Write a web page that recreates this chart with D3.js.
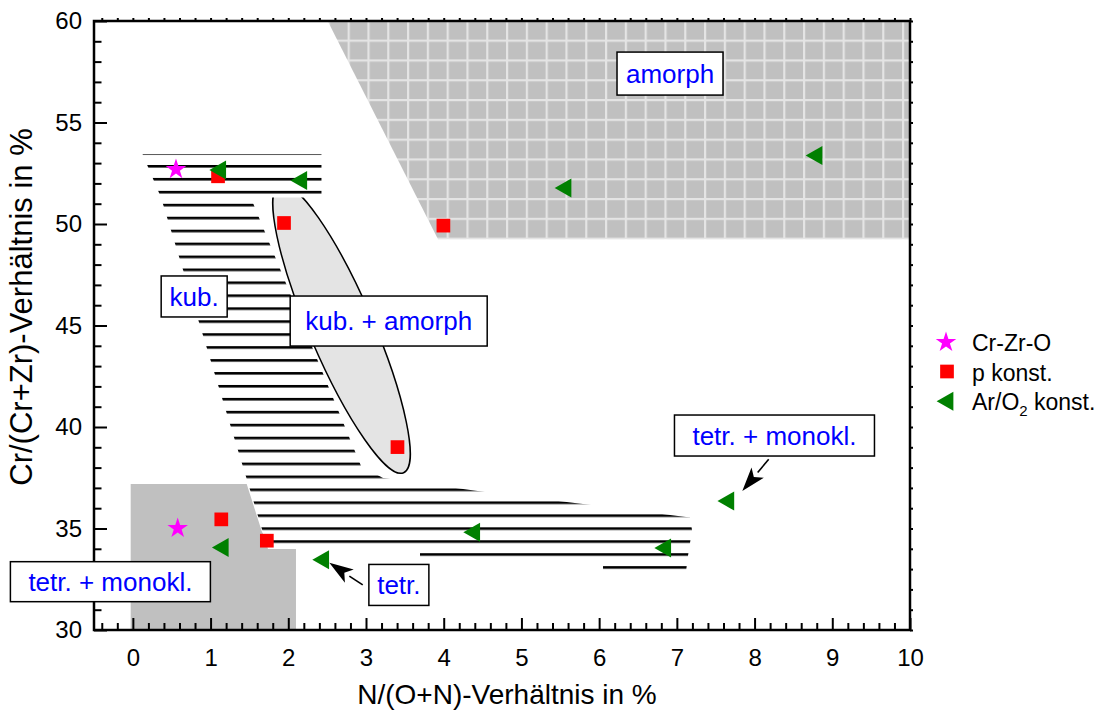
<!DOCTYPE html>
<html>
<head>
<meta charset="utf-8">
<script src="https://cdn.jsdelivr.net/npm/d3@7"></script>
<style>
  body { margin: 0; background: #fff; }
  svg { display: block; }
  text { font-family: "Liberation Sans", Arial, Helvetica, sans-serif; }
</style>
</head>
<body>
<svg id="chart" width="1101" height="713"></svg>
<script>
// ---- axis ticks ----
const xTickValues = [0, 1, 2, 3, 4, 5, 6, 7, 8, 9, 10];
const yTickValues = [30, 35, 40, 45, 50, 55, 60];

// ---- measured compositions: [N/(O+N) %, Cr/(Cr+Zr) %] ----
const crZrO     = [[0.555, 52.69], [0.577, 35.01]];
const pKonst    = [[1.096, 52.35], [1.945, 50.05], [3.996, 49.92], [3.405, 39.01],
                   [1.138, 35.45], [1.724, 34.40]];
const arO2Konst = [[1.092, 52.66], [2.135, 52.14], [5.535, 51.77], [8.765, 53.37],
                   [1.125, 34.07], [2.417, 33.46], [4.360, 34.81], [6.818, 34.04],
                   [7.630, 36.35]];

// ---- phase regions (data units) ----
const amorphRegion   = [[2.507, 60], [10, 60], [10, 49.25], [3.927, 49.25]];
const tetrMonoRegion = [[-0.028, 37.19], [1.465, 37.19], [1.662, 34.83], [1.765, 34.16],
                        [2.099, 34.07], [2.099, 30], [-0.028, 30]];
const kubRegion      = [[0.124, 53.45], [2.427, 53.45], [2.427, 51.31], [1.516, 51.31],
                        [2.936, 38.08], [3.219, 37.49], [4.531, 36.80], [5.844, 36.18],
                        [7.169, 35.54], [7.195, 34.93], [7.143, 33.65], [7.118, 32.88],
                        [6.050, 32.88], [6.050, 33.37], [3.695, 33.37], [3.695, 33.99],
                        [1.739, 33.99], [0.362, 51.31]];
const kubAmorphCenter = [2.685, 44.85];

// ---- phase labels and arrows ----
const phaseLabels = ["amorph", "kub.", "kub. + amorph", "tetr. + monokl.", "tetr.", "tetr. + monokl."];
const labelCenters = [[6.912, 57.41], [0.789, 46.43], [3.292, 45.22], [-0.289, 32.38],
                      [3.423, 32.22], [8.256, 39.58]];
const arrowTails = [[2.958, 32.22], [8.182, 38.41]];
const arrowTips  = [[2.528, 33.31], [7.842, 36.85]];

const legendNames = ["Cr-Zr-O", "p konst.", "Ar/O"];

// ---- layout ----
const plot = { left: 94, right: 910, top: 21, bottom: 630 };
const svg = d3.select("#chart");

const x = d3.scaleLinear().domain([-0.5, 10]).range([plot.left, plot.right]);
const y = d3.scaleLinear().domain([30, 60]).range([plot.bottom, plot.top]);

const line = d3.line().x(d => x(d[0])).y(d => y(d[1]));
const polyPath = pts => line(pts) + "Z";

// ---- fill patterns ----
const defs = svg.append("defs");
const gridStep = 19.8;
const grid = defs.append("pattern").attr("id", "gridFill")
  .attr("patternUnits", "userSpaceOnUse")
  .attr("x", 347.6).attr("y", 39.6)
  .attr("width", gridStep).attr("height", gridStep);
grid.append("rect").attr("width", gridStep).attr("height", gridStep).attr("fill", "#c0c0c0");
grid.append("rect").attr("width", 2.2).attr("height", gridStep).attr("fill", "#e4e4e4");
grid.append("rect").attr("width", gridStep).attr("height", 2.2).attr("fill", "#e4e4e4");

const hatchStep = 12.94;
const hatch = defs.append("pattern").attr("id", "hatchFill")
  .attr("patternUnits", "userSpaceOnUse")
  .attr("x", 0).attr("y", y(53.48) - 1.3)
  .attr("width", 20).attr("height", hatchStep);
hatch.append("rect").attr("width", 20).attr("height", 2.6).attr("fill", "#000");

// ---- regions ----
svg.append("path").attr("d", polyPath(amorphRegion)).attr("fill", "url(#gridFill)");
svg.append("path").attr("d", polyPath(tetrMonoRegion)).attr("fill", "#c0c0c0");

svg.append("ellipse")
  .attr("transform", `translate(${x(kubAmorphCenter[0])},${y(kubAmorphCenter[1])}) rotate(66.7)`)
  .attr("rx", 157).attr("ry", 32)
  .attr("fill", "#e4e4e4").attr("stroke", "#000").attr("stroke-width", 1.5);

svg.append("path").attr("d", polyPath(kubRegion)).attr("fill", "#fff");
svg.append("path").attr("d", polyPath(kubRegion)).attr("fill", "url(#hatchFill)");

// ---- axes (ticks point inward) ----
const fs = 24;
const xMinor = d3.range(-0.4, 10.001, 0.2).filter(v => Math.abs(v - Math.round(v)) > 1e-6);
const yMinor = d3.range(31, 60, 1).filter(v => v % 5 !== 0);

function styleAxis(g) {
  g.select(".domain").remove();
  g.selectAll(".tick line").attr("stroke", "#000").attr("stroke-width", 2);
  g.selectAll(".tick text").attr("font-size", fs).attr("fill", "#000")
    .attr("font-family", "'Liberation Sans', Arial, sans-serif");
}

svg.append("g").attr("transform", `translate(0,${plot.bottom})`)
  .call(d3.axisBottom(x).tickValues(xMinor).tickSize(-7).tickFormat(""))
  .call(styleAxis);
svg.append("g").attr("transform", `translate(0,${plot.bottom})`)
  .call(d3.axisBottom(x).tickValues(xTickValues).tickSize(-12).tickPadding(19).tickFormat(d3.format("d")))
  .call(styleAxis);
svg.append("g").attr("transform", `translate(${plot.left},0)`)
  .call(d3.axisLeft(y).tickValues(yMinor).tickSize(-7.5).tickFormat(""))
  .call(styleAxis);
svg.append("g").attr("transform", `translate(${plot.left},0)`)
  .call(d3.axisLeft(y).tickValues(yTickValues).tickSize(-13).tickPadding(12).tickFormat(d3.format("d")))
  .call(styleAxis);
// small outward stubs on top and right
svg.append("g").attr("transform", `translate(0,${plot.top})`)
  .call(d3.axisTop(x).tickValues(xMinor.concat(xTickValues)).tickSize(3).tickFormat(""))
  .call(styleAxis);
svg.append("g").attr("transform", `translate(${plot.right},0)`)
  .call(d3.axisRight(y).tickValues(yMinor.concat(yTickValues)).tickSize(3).tickFormat(""))
  .call(styleAxis);

svg.append("rect")
  .attr("x", plot.left).attr("y", plot.top)
  .attr("width", plot.right - plot.left).attr("height", plot.bottom - plot.top)
  .attr("fill", "none").attr("stroke", "#000").attr("stroke-width", 2.5);

// axis titles
svg.append("text").attr("x", 507).attr("y", 704).attr("text-anchor", "middle")
  .attr("font-size", 28).text("N/(O+N)-Verhältnis in %");
svg.append("text").attr("transform", "translate(32,307) rotate(-90)").attr("text-anchor", "middle")
  .attr("font-size", 31).text("Cr/(Cr+Zr)-Verhältnis in %");

// ---- phase labels ----
const labelBoxes = [[106, 43], [66, 41], [197, 50], [200, 40], [60, 41], [200, 41]];
const lg = svg.append("g");
phaseLabels.forEach((t, i) => {
  const cx = x(labelCenters[i][0]), cy = y(labelCenters[i][1]);
  const [bw, bh] = labelBoxes[i];
  lg.append("rect").attr("x", cx - bw / 2).attr("y", cy - bh / 2)
    .attr("width", bw).attr("height", bh)
    .attr("fill", "#fff").attr("stroke", "#000").attr("stroke-width", 1.5);
  lg.append("text").attr("x", cx).attr("y", cy).attr("dy", "0.36em")
    .attr("text-anchor", "middle").attr("font-size", 26).attr("fill", "#0000ff").text(t);
});

// ---- arrows ----
arrowTails.forEach((tail, i) => {
  const x0 = x(tail[0]), y0 = y(tail[1]);
  const x1 = x(arrowTips[i][0]), y1 = y(arrowTips[i][1]);
  const ang = Math.atan2(y1 - y0, x1 - x0);
  const len = 24, half = 8;
  const bx = x1 - len * Math.cos(ang), by = y1 - len * Math.sin(ang);
  svg.append("line").attr("x1", x0).attr("y1", y0).attr("x2", bx).attr("y2", by)
    .attr("stroke", "#000").attr("stroke-width", 1.6);
  const px = -Math.sin(ang), py = Math.cos(ang);
  svg.append("path")
    .attr("d", `M${x1},${y1}L${bx + px * half},${by + py * half}L${bx + 0.25 * len * Math.cos(ang)},${by + 0.25 * len * Math.sin(ang)}L${bx - px * half},${by - py * half}Z`)
    .attr("fill", "#000");
});

// ---- marker shapes ----
function starPath(cx, cy, R) {
  const r = R * 0.382, pts = [];
  for (let k = 0; k < 10; k++) {
    const a = -Math.PI / 2 + k * Math.PI / 5;
    const rr = k % 2 === 0 ? R : r;
    pts.push([cx + rr * Math.cos(a), cy + rr * Math.sin(a)]);
  }
  return "M" + pts.map(p => p.join(",")).join("L") + "Z";
}
function triPath(cx, cy, w, h) {
  return `M${cx - w / 2},${cy}L${cx + w / 2},${cy - h / 2}L${cx + w / 2},${cy + h / 2}Z`;
}
const sq = 13.7;

const marks = svg.append("g");
marks.selectAll(".star").data(crZrO).join("path")
  .attr("d", d => starPath(x(d[0]), y(d[1]), 10.8)).attr("fill", "#ff00ff");
marks.selectAll(".sq").data(pKonst).join("rect")
  .attr("x", d => x(d[0]) - sq / 2).attr("y", d => y(d[1]) - sq / 2)
  .attr("width", sq).attr("height", sq).attr("fill", "#ff0000");
marks.selectAll(".tri").data(arO2Konst).join("path")
  .attr("d", d => triPath(x(d[0]), y(d[1]), 16.7, 19)).attr("fill", "#008000");

// ---- legend ----
const lfs = 23;
const leg = svg.append("g");
leg.append("path").attr("d", starPath(946, 342.3, 10.8)).attr("fill", "#ff00ff");
leg.append("rect").attr("x", 947 - sq / 2).attr("y", 371.5 - sq / 2).attr("width", sq).attr("height", sq).attr("fill", "#ff0000");
leg.append("path").attr("d", triPath(945, 401.3, 16.7, 19)).attr("fill", "#008000");
leg.append("text").attr("x", 972).attr("y", 351).attr("font-size", lfs).text(legendNames[0]);
leg.append("text").attr("x", 972).attr("y", 380.5).attr("font-size", lfs).text(legendNames[1]);
const t3 = leg.append("text").attr("x", 972).attr("y", 409.5).attr("font-size", lfs);
t3.append("tspan").text(legendNames[2]);
t3.append("tspan").attr("font-size", 15).attr("dy", 6).text("2");
t3.append("tspan").attr("dy", -6).text(" konst.");
</script>
</body>
</html>
